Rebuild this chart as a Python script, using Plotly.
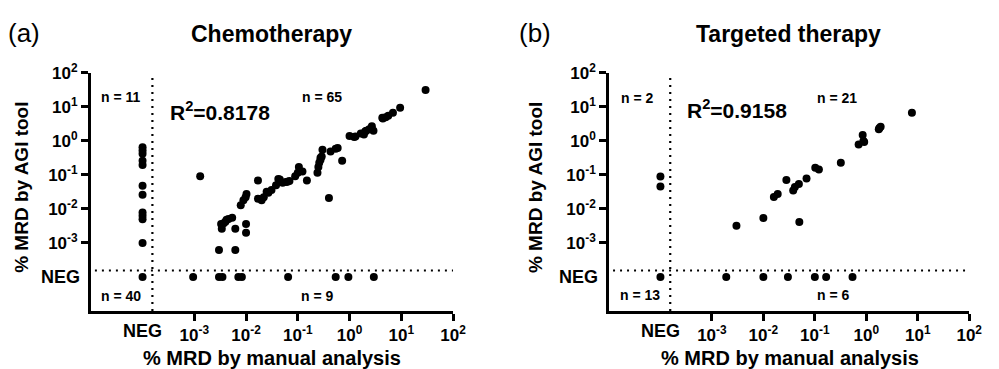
import plotly.graph_objects as go

W, H = 999, 369
NEG = 1e-4  # placeholder value for negative results

# ---------- Panel (a) Chemotherapy ----------
chemo_pos_x = [29.5, 9.5, 6.9, 5.6, 5.0, 4.3, 4.4, 2.7, 2.9, 2.4, 2.0, 1.9, 2.1, 1.65,
               1.3, 1.0, 1.23, 0.72, 0.59, 0.54, 0.43, 0.30, 0.29, 0.275, 0.26, 0.25,
               0.275, 0.24, 0.40, 0.15, 0.123, 0.105, 0.10, 0.089, 0.069, 0.059, 0.051,
               0.045, 0.042, 0.063, 0.038, 0.031, 0.027, 0.025, 0.022, 0.020, 0.017,
               0.017, 0.0102, 0.0098, 0.0089, 0.0079, 0.010, 0.010, 0.0062, 0.0062,
               0.0054, 0.0046, 0.0042, 0.0037, 0.0033, 0.0034, 0.0040, 0.0030, 0.0013]
chemo_pos_y = [31.6, 9.5, 6.8, 5.5, 5.0, 4.8, 4.6, 2.7, 2.0, 2.2, 1.9, 1.55, 2.0, 1.65,
               1.35, 1.4, 1.3, 0.26, 0.62, 0.59, 0.49, 0.55, 0.35, 0.28, 0.23, 0.17,
               0.32, 0.117, 0.021, 0.069, 0.126, 0.17, 0.117, 0.091, 0.066, 0.062, 0.059,
               0.074, 0.076, 0.063, 0.050, 0.036, 0.030, 0.032, 0.022, 0.018, 0.020,
               0.069, 0.0275, 0.022, 0.018, 0.0129, 0.0036, 0.0020, 0.0026, 0.00062,
               0.0055, 0.0051, 0.0048, 0.0038, 0.0036, 0.0026, 0.0042, 0.00062, 0.091]
chemo_negmanual_y = [0.65, 0.52, 0.42, 0.26, 0.195, 0.048, 0.026, 0.0079, 0.0063, 0.0050, 0.0010]
chemo_negagi_x = [0.00095, 0.0030, 0.0035, 0.0071, 0.0083, 0.065, 0.54, 0.95, 2.95]
chemo_counts = ["n = 11", "n = 65", "n = 40", "n = 9"]
chemo_r2 = "0.8178"

# ---------- Panel (b) Targeted therapy ----------
targ_pos_x = [7.7, 1.9, 1.75, 1.8, 0.85, 0.91, 0.88, 0.71, 0.32, 0.102, 0.12, 0.069,
              0.028, 0.049, 0.041, 0.038, 0.019, 0.016, 0.010, 0.050, 0.0030]
targ_pos_y = [6.8, 2.6, 2.2, 2.4, 1.5, 0.93, 1.0, 0.78, 0.23, 0.162, 0.145, 0.078,
              0.071, 0.054, 0.044, 0.035, 0.0275, 0.0224, 0.0054, 0.0041, 0.0032]
targ_negmanual_y = [0.09, 0.046]
targ_negagi_x = [0.0019, 0.010, 0.030, 0.10, 0.166, 0.54]
targ_counts = ["n = 2", "n = 21", "n = 13", "n = 6"]
targ_r2 = "0.9158"

tick_vals = [1e-3, 1e-2, 1e-1, 1e0, 1e1, 1e2]
tick_text = ["10<sup>-3</sup>", "10<sup>-2</sup>", "10<sup>-1</sup>",
             "10<sup>0</sup>", "10<sup>1</sup>", "10<sup>2</sup>"]
cut_value = 1.55e-4  # dotted cut-off lines

FONT = "Liberation Sans, Arial, sans-serif"

fig = go.Figure()

panels = [
    dict(xa="x", ya="y", px=chemo_pos_x, py=chemo_pos_y, nmy=chemo_negmanual_y,
         nax=chemo_negagi_x, counts=chemo_counts, r2=chemo_r2,
         x0=92, x1=459, letter="(a)", title="Chemotherapy"),
    dict(xa="x2", ya="y2", px=targ_pos_x, py=targ_pos_y, nmy=targ_negmanual_y,
         nax=targ_negagi_x, counts=targ_counts, r2=targ_r2,
         x0=617, x1=982, letter="(b)", title="Targeted therapy"),
]

Y_TOP, Y_BOT = 63, 309
annotations = []

def px(xp):
    return xp / W

def py(yp):
    return 1 - yp / H

for i, p in enumerate(panels):
    xa, ya = p["xa"], p["ya"]
    allx = p["px"] + [NEG] * len(p["nmy"]) + p["nax"] + [NEG]
    ally = p["py"] + p["nmy"] + [NEG] * len(p["nax"]) + [NEG]
    # dotted cut-off lines
    fig.add_trace(go.Scatter(x=[cut_value, cut_value], y=[1e-5, 1e2], mode="lines",
                             line=dict(color="black", width=2.2, dash="2px,5px"),
                             xaxis=xa, yaxis=ya, hoverinfo="skip", showlegend=False))
    fig.add_trace(go.Scatter(x=[1.2e-5, 1e2], y=[cut_value, cut_value], mode="lines",
                             line=dict(color="black", width=2.2, dash="2px,5px"),
                             xaxis=xa, yaxis=ya, hoverinfo="skip", showlegend=False))
    fig.add_trace(go.Scatter(x=allx, y=ally, mode="markers",
                             marker=dict(color="black", size=8),
                             xaxis=xa, yaxis=ya, showlegend=False))

    x0, x1 = p["x0"], p["x1"]
    sfx = "" if i == 0 else "2"
    axis_common = dict(type="log", range=[-5, 2], showline=True, linewidth=2.5,
                       linecolor="black", ticks="outside", ticklen=7, tickwidth=2.5,
                       tickcolor="black", tickvals=tick_vals, ticktext=tick_text,
                       showgrid=False, zeroline=False,
                       tickfont=dict(family=FONT, size=17, color="black", weight="bold"))
    fig.update_layout(**{
        "xaxis" + sfx: dict(axis_common, domain=[px(x0), px(x1)], anchor="y" + sfx),
        "yaxis" + sfx: dict(axis_common, domain=[py(Y_BOT), py(Y_TOP)], anchor="x" + sfx),
    })

    # NEG labels (no tick marks)
    annotations.append(dict(x=-4, y=py(330), xref=xa, yref="paper", text="NEG",
                            showarrow=False, xanchor="center", yanchor="middle",
                            font=dict(family=FONT, size=18, color="black", weight="bold")))
    annotations.append(dict(x=px(x0 - 9), y=-4, xref="paper", yref=ya, text="NEG",
                            showarrow=False, xanchor="right", yanchor="middle",
                            font=dict(family=FONT, size=18, color="black", weight="bold")))
    # quadrant counts
    cpos = [(123, 88), (326, 88), (123, 294), (322, 294)] if i == 0 else \
           [(646, 89), (848, 89), (648, 293), (844, 293)]
    for txt, (cx, cy) in zip(p["counts"], cpos):
        annotations.append(dict(x=px(cx), y=py(cy), xref="paper", yref="paper", text=txt,
                                showarrow=False, xanchor="center", yanchor="middle",
                                font=dict(family=FONT, size=14, color="black", weight="bold")))
    # R^2
    rx, ry = (223, 102) if i == 0 else (747, 100)
    annotations.append(dict(x=px(rx), y=py(ry), xref="paper", yref="paper",
                            text="R<sup>2</sup>=" + p["r2"], showarrow=False,
                            xanchor="center", yanchor="middle",
                            font=dict(family=FONT, size=21, color="black", weight="bold")))
    # panel letter and title
    lx = 24 if i == 0 else 542
    annotations.append(dict(x=px(lx), y=py(22), xref="paper", yref="paper", text=p["letter"],
                            showarrow=False, xanchor="center", yanchor="middle",
                            font=dict(family=FONT, size=26, color="black")))
    tx = 275 if i == 0 else 799
    annotations.append(dict(x=px(tx), y=py(23), xref="paper", yref="paper", text=p["title"],
                            showarrow=False, xanchor="center", yanchor="middle",
                            font=dict(family=FONT, size=23, color="black", weight="bold")))
    # axis titles
    xtx = 276 if i == 0 else 800
    annotations.append(dict(x=px(xtx), y=py(358), xref="paper", yref="paper",
                            text="% MRD by manual analysis", showarrow=False,
                            xanchor="center", yanchor="middle",
                            font=dict(family=FONT, size=20, color="black", weight="bold")))
    ytx = 21 if i == 0 else 542
    annotations.append(dict(x=px(ytx), y=py(181), xref="paper", yref="paper",
                            text="% MRD by AGI tool", showarrow=False, textangle=-90,
                            xanchor="center", yanchor="middle",
                            font=dict(family=FONT, size=19, color="black", weight="bold")))

fig.update_layout(width=W, height=H, margin=dict(l=0, r=0, t=0, b=0),
                  paper_bgcolor="white", plot_bgcolor="white",
                  annotations=annotations, showlegend=False)

fig.write_html("out.html", config={"displayModeBar": False},
               post_script="document.body.style.margin='0';document.body.style.overflow='hidden';")
